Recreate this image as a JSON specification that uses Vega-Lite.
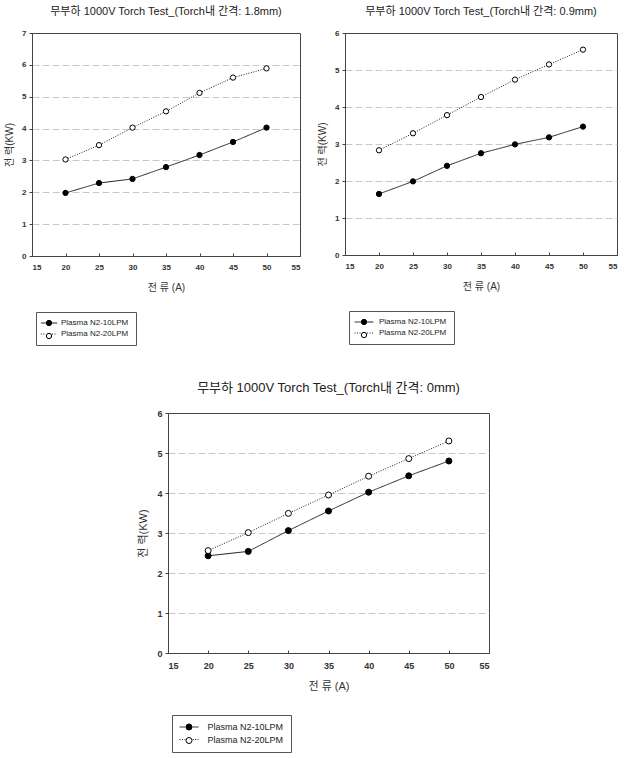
{
  "$schema": "https://vega.github.io/schema/vega-lite/v6.json",
  "padding": {"left": 4, "top": 5, "right": 5, "bottom": 0},
  "background": "white",
  "config": {
    "font": "Liberation Sans, Noto Sans CJK KR",
    "view": {"stroke": "#444", "strokeWidth": 1},
    "axis": {
      "domainColor": "#444", "tickColor": "#444", "tickSize": 3, "labelOverlap": false,
      "labelFont": "Liberation Sans", "labelFontSize": 8, "labelFontWeight": "bold", "labelColor": "#333",
      "titleFont": "Liberation Sans, Noto Sans CJK KR", "titleFontSize": 10, "titleFontWeight": "normal", "titleColor": "#333",
      "gridColor": "#c8c8c8", "gridDash": [7, 3], "gridWidth": 1
    },
    "axisX": {"grid": false, "tickSize": -3, "labelPadding": 10, "titlePadding": 11},
    "axisY": {"grid": true, "labelPadding": 3, "titlePadding": 7},
    "title": {"font": "Liberation Sans, Noto Sans CJK KR", "fontWeight": "normal", "color": "#222", "fontSize": 11}
  },
  "datasets": {
    "d18": [
      {"current": 20, "power": 1.98, "series": "Plasma N2-10LPM"},
      {"current": 25, "power": 2.29, "series": "Plasma N2-10LPM"},
      {"current": 30, "power": 2.42, "series": "Plasma N2-10LPM"},
      {"current": 35, "power": 2.79, "series": "Plasma N2-10LPM"},
      {"current": 40, "power": 3.17, "series": "Plasma N2-10LPM"},
      {"current": 45, "power": 3.58, "series": "Plasma N2-10LPM"},
      {"current": 50, "power": 4.03, "series": "Plasma N2-10LPM"},
      {"current": 20, "power": 3.03, "series": "Plasma N2-20LPM"},
      {"current": 25, "power": 3.48, "series": "Plasma N2-20LPM"},
      {"current": 30, "power": 4.03, "series": "Plasma N2-20LPM"},
      {"current": 35, "power": 4.54, "series": "Plasma N2-20LPM"},
      {"current": 40, "power": 5.12, "series": "Plasma N2-20LPM"},
      {"current": 45, "power": 5.60, "series": "Plasma N2-20LPM"},
      {"current": 50, "power": 5.89, "series": "Plasma N2-20LPM"}
    ],
    "d09": [
      {"current": 20, "power": 1.65, "series": "Plasma N2-10LPM"},
      {"current": 25, "power": 1.99, "series": "Plasma N2-10LPM"},
      {"current": 30, "power": 2.41, "series": "Plasma N2-10LPM"},
      {"current": 35, "power": 2.75, "series": "Plasma N2-10LPM"},
      {"current": 40, "power": 2.99, "series": "Plasma N2-10LPM"},
      {"current": 45, "power": 3.18, "series": "Plasma N2-10LPM"},
      {"current": 50, "power": 3.47, "series": "Plasma N2-10LPM"},
      {"current": 20, "power": 2.83, "series": "Plasma N2-20LPM"},
      {"current": 25, "power": 3.29, "series": "Plasma N2-20LPM"},
      {"current": 30, "power": 3.78, "series": "Plasma N2-20LPM"},
      {"current": 35, "power": 4.27, "series": "Plasma N2-20LPM"},
      {"current": 40, "power": 4.74, "series": "Plasma N2-20LPM"},
      {"current": 45, "power": 5.15, "series": "Plasma N2-20LPM"},
      {"current": 50, "power": 5.55, "series": "Plasma N2-20LPM"}
    ],
    "d00": [
      {"current": 20, "power": 2.43, "series": "Plasma N2-10LPM"},
      {"current": 25, "power": 2.54, "series": "Plasma N2-10LPM"},
      {"current": 30, "power": 3.06, "series": "Plasma N2-10LPM"},
      {"current": 35, "power": 3.55, "series": "Plasma N2-10LPM"},
      {"current": 40, "power": 4.02, "series": "Plasma N2-10LPM"},
      {"current": 45, "power": 4.43, "series": "Plasma N2-10LPM"},
      {"current": 50, "power": 4.80, "series": "Plasma N2-10LPM"},
      {"current": 20, "power": 2.56, "series": "Plasma N2-20LPM"},
      {"current": 25, "power": 3.01, "series": "Plasma N2-20LPM"},
      {"current": 30, "power": 3.49, "series": "Plasma N2-20LPM"},
      {"current": 35, "power": 3.95, "series": "Plasma N2-20LPM"},
      {"current": 40, "power": 4.42, "series": "Plasma N2-20LPM"},
      {"current": 45, "power": 4.86, "series": "Plasma N2-20LPM"},
      {"current": 50, "power": 5.30, "series": "Plasma N2-20LPM"}
    ]
  },
  "bounds": "flush",
  "spacing": 380,
  "resolve": {"scale": {"strokeDash": "independent", "fill": "independent"}},
  "vconcat": [
    {
      "bounds": "flush",
      "spacing": 45,
      "resolve": {"scale": {"strokeDash": "independent", "fill": "independent"}},
      "hconcat": [
        {
          "width": 268, "height": 223,
          "title": {"text": "무부하 1000V Torch Test_(Torch내 간격: 1.8mm)", "offset": 12},
          "data": {"name": "d18"},
          "encoding": {
            "x": {"field": "current", "type": "quantitative", "scale": {"domain": [15, 55], "nice": false}, "axis": {"values": [15, 20, 25, 30, 35, 40, 45, 50, 55], "tickCount": 9, "labelOverlap": false, "title": "전 류 (A)"}},
            "y": {"field": "power", "type": "quantitative", "scale": {"domain": [0, 7], "nice": false}, "axis": {"values": [0, 1, 2, 3, 4, 5, 6, 7], "tickCount": 8, "labelOverlap": false, "title": "전 력(KW)", "gridOpacity": {"condition": {"test": "datum.value == 0 || datum.value == 7", "value": 0}, "value": 1}}}
          },
          "layer": [
            {
              "mark": {"type": "line", "color": "#222", "strokeWidth": 1},
              "encoding": {
                "strokeDash": {"field": "series", "type": "nominal", "scale": {"range": [[1, 0], [1, 1.5]]},
                  "legend": {"title": null, "orient": "none", "legendX": 4, "legendY": 279, "symbolType": "M-2.33,0L-0.86,0M0.86,0L2.33,0", "symbolSize": 49, "symbolStrokeWidth": 1, "symbolStrokeColor": "#222", "symbolOffset": 2, "labelOffset": 8, "labelFontSize": 8, "labelColor": "#222", "labelFont": "Liberation Sans", "rowPadding": 3, "padding": 7, "strokeColor": "#555"}}
              }
            },
            {
              "mark": {"type": "point", "filled": true, "stroke": "#000", "strokeWidth": 1, "size": 28, "opacity": 1},
              "encoding": {
                "fill": {"field": "series", "type": "nominal", "scale": {"domain": ["Plasma N2-10LPM", "Plasma N2-20LPM"], "range": ["#000", "#fff"]},
                  "legend": {"title": null, "orient": "none", "legendX": 4, "legendY": 279, "symbolType": "circle", "symbolSize": 28, "symbolStrokeWidth": 1, "symbolStrokeColor": "#000", "symbolOffset": 2, "labelOffset": 8, "labelFontSize": 8, "labelExpr": "''", "labelFont": "Liberation Sans", "rowPadding": 3, "padding": 7}}
              }
            }
          ]
        },
        {
          "width": 272, "height": 222,
          "title": {"text": "무부하 1000V Torch Test_(Torch내 간격: 0.9mm)", "offset": 12},
          "data": {"name": "d09"},
          "encoding": {
            "x": {"field": "current", "type": "quantitative", "scale": {"domain": [15, 55], "nice": false}, "axis": {"values": [15, 20, 25, 30, 35, 40, 45, 50, 55], "tickCount": 9, "labelOverlap": false, "title": "전 류 (A)"}},
            "y": {"field": "power", "type": "quantitative", "scale": {"domain": [0, 6], "nice": false}, "axis": {"values": [0, 1, 2, 3, 4, 5, 6], "tickCount": 7, "labelOverlap": false, "title": "전 력(KW)", "gridOpacity": {"condition": {"test": "datum.value == 0 || datum.value == 6", "value": 0}, "value": 1}}}
          },
          "layer": [
            {
              "mark": {"type": "line", "color": "#222", "strokeWidth": 1},
              "encoding": {
                "strokeDash": {"field": "series", "type": "nominal", "scale": {"range": [[1, 0], [1, 1.5]]},
                  "legend": {"title": null, "orient": "none", "legendX": 4, "legendY": 278, "symbolType": "M-2.7,0L-0.86,0M0.86,0L2.7,0", "symbolSize": 49, "symbolStrokeWidth": 1, "symbolStrokeColor": "#222", "symbolOffset": 4, "labelOffset": 11, "labelFontSize": 8, "labelColor": "#222", "labelFont": "Liberation Sans", "rowPadding": 3, "padding": 7, "strokeColor": "#555"}}
              }
            },
            {
              "mark": {"type": "point", "filled": true, "stroke": "#000", "strokeWidth": 1, "size": 28, "opacity": 1},
              "encoding": {
                "fill": {"field": "series", "type": "nominal", "scale": {"domain": ["Plasma N2-10LPM", "Plasma N2-20LPM"], "range": ["#000", "#fff"]},
                  "legend": {"title": null, "orient": "none", "legendX": 4, "legendY": 278, "symbolType": "circle", "symbolSize": 28, "symbolStrokeWidth": 1, "symbolStrokeColor": "#000", "symbolOffset": 4, "labelOffset": 11, "labelFontSize": 8, "labelExpr": "''", "labelFont": "Liberation Sans", "rowPadding": 3, "padding": 7}}
              }
            }
          ]
        }
      ]
    },
    {
      "bounds": "flush",
      "spacing": 0,
      "resolve": {"scale": {"strokeDash": "independent", "fill": "independent"}},
      "hconcat": [
        {
          "width": 136, "height": 10,
          "data": {"values": []},
          "mark": "point",
          "view": {"stroke": null}
        },
        {
          "width": 321, "height": 240,
          "title": {"text": "무부하 1000V Torch Test_(Torch내 간격: 0mm)", "offset": 14, "fontSize": 13},
          "data": {"name": "d00"},
          "encoding": {
            "x": {"field": "current", "type": "quantitative", "scale": {"domain": [15, 55], "nice": false}, "axis": {"values": [15, 20, 25, 30, 35, 40, 45, 50, 55], "tickCount": 9, "labelOverlap": false, "title": "전 류 (A)", "labelFontSize": 9, "titleFontSize": 11, "labelPadding": 11, "titlePadding": 10}},
            "y": {"field": "power", "type": "quantitative", "scale": {"domain": [0, 6], "nice": false}, "axis": {"values": [0, 1, 2, 3, 4, 5, 6], "tickCount": 7, "labelOverlap": false, "title": "전 력(KW)", "labelFontSize": 9, "titleFontSize": 11, "titlePadding": 8, "gridOpacity": {"condition": {"test": "datum.value == 0 || datum.value == 6", "value": 0}, "value": 1}}}
          },
          "layer": [
            {
              "mark": {"type": "line", "color": "#222", "strokeWidth": 1},
              "encoding": {
                "strokeDash": {"field": "series", "type": "nominal", "scale": {"range": [[1, 0], [1, 1.5]]},
                  "legend": {"title": null, "orient": "none", "legendX": 4, "legendY": 302, "symbolType": "M-2.375,0L-0.9,0M0.9,0L2.375,0", "symbolSize": 64, "symbolStrokeWidth": 1, "symbolStrokeColor": "#222", "symbolOffset": 5, "labelOffset": 14, "labelFontSize": 9, "labelColor": "#222", "labelFont": "Liberation Sans", "rowPadding": 2.5, "padding": 7.5, "strokeColor": "#555"}}
              }
            },
            {
              "mark": {"type": "point", "filled": true, "stroke": "#000", "strokeWidth": 1, "size": 36, "opacity": 1},
              "encoding": {
                "fill": {"field": "series", "type": "nominal", "scale": {"domain": ["Plasma N2-10LPM", "Plasma N2-20LPM"], "range": ["#000", "#fff"]},
                  "legend": {"title": null, "orient": "none", "legendX": 4, "legendY": 302, "symbolType": "circle", "symbolSize": 36, "symbolStrokeWidth": 1, "symbolStrokeColor": "#000", "symbolOffset": 5, "labelOffset": 14, "labelFontSize": 9, "labelExpr": "''", "labelFont": "Liberation Sans", "rowPadding": 2.5, "padding": 7.5}}
              }
            }
          ]
        }
      ]
    }
  ]
}
